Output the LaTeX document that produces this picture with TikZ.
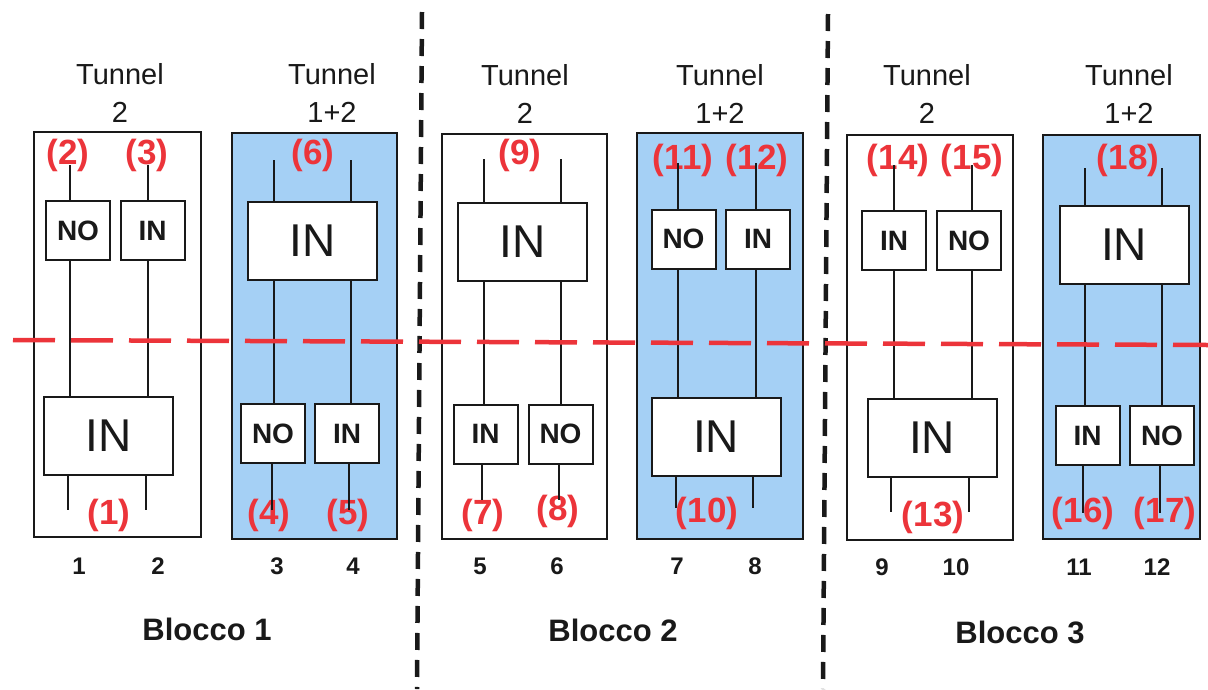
\documentclass[tikz,border=0pt]{standalone}
\usepackage{fontspec}
\setmainfont{Liberation Sans}
\definecolor{panelblue}{RGB}{165,208,245}
\definecolor{labelred}{RGB}{236,52,58}
\definecolor{ink}{RGB}{25,25,25}
\tikzset{
  tbox/.style={draw=ink, line width=2pt, inner sep=0pt},
  whitepanel/.style={tbox, fill=white},
  bluepanel/.style={tbox, fill=panelblue},
  bigsw/.style={draw=ink, line width=2pt, fill=white, inner sep=0pt,
    minimum width=129pt, minimum height=78pt, text=ink,
    font=\fontsize{46}{46}\selectfont},
  smallsw/.style={draw=ink, line width=2pt, fill=white, inner sep=0pt,
    minimum width=64pt, minimum height=59pt, text=ink,
    font=\fontsize{28}{28}\selectfont\bfseries},
  wire/.style={draw=ink, line width=2pt},
  redlbl/.style={text=labelred, inner sep=0pt, font=\fontsize{35}{35}\selectfont\bfseries},
  colnum/.style={text=ink, inner sep=0pt, font=\fontsize{24}{24}\selectfont\bfseries},
  blocklbl/.style={text=ink, inner sep=0pt, font=\fontsize{31}{31}\selectfont\bfseries},
  tunlbl/.style={text=ink, inner sep=0pt, align=center,
    font=\fontsize{29}{38}\selectfont},
  blockdiv/.style={draw=ink, line width=4.5pt, dash pattern=on 17pt off 10pt},
  cutline/.style={draw=labelred, line width=4.5pt, dash pattern=on 42pt off 16pt}
}
\begin{document}
\begin{tikzpicture}[x=1pt, y=-1pt]
\useasboundingbox[fill=white] (0,0) rectangle (1208,689);

% ---------- panels ----------
\node[whitepanel, minimum width=167pt, minimum height=405pt] (p1) at (117.5,334.5) {};
\node[bluepanel,  minimum width=165pt, minimum height=406pt] (p2) at (314.5,336) {};
\node[whitepanel, minimum width=165pt, minimum height=405pt] (p3) at (524.5,336.5) {};
\node[bluepanel,  minimum width=166pt, minimum height=406pt] (p4) at (720,336) {};
\node[whitepanel, minimum width=166pt, minimum height=405pt] (p5) at (930,337.5) {};
\node[bluepanel,  minimum width=157pt, minimum height=404pt] (p6) at (1121.5,337) {};

% ---------- tunnel headings ----------
\node[tunlbl] (t1) at (120,93) {Tunnel\\2};
\node[tunlbl] (t2) at (332,93) {Tunnel\\1+2};
\node[tunlbl] (t3) at (525,94) {Tunnel\\2};
\node[tunlbl] (t4) at (720,94) {Tunnel\\1+2};
\node[tunlbl] (t5) at (927,94) {Tunnel\\2};
\node[tunlbl] (t6) at (1129,94) {Tunnel\\1+2};

% ---------- red terminal labels ----------
\node[redlbl] (r2)  at (68,155)   {(2)};
\node[redlbl] (r3)  at (147,155)  {(3)};
\node[redlbl] (r1)  at (109,515)  {(1)};
\node[redlbl] (r6)  at (313,155)  {(6)};
\node[redlbl] (r4)  at (269,515)  {(4)};
\node[redlbl] (r5)  at (348,515)  {(5)};
\node[redlbl] (r9)  at (520,155)  {(9)};
\node[redlbl] (r7)  at (483,515)  {(7)};
\node[redlbl] (r8)  at (558,511)  {(8)};
\node[redlbl] (r11) at (683,160)  {(11)};
\node[redlbl] (r12) at (757,160)  {(12)};
\node[redlbl] (r10) at (707,513)  {(10)};
\node[redlbl] (r14) at (898,160)  {(14)};
\node[redlbl] (r15) at (972,160)  {(15)};
\node[redlbl] (r13) at (933,517)  {(13)};
\node[redlbl] (r18) at (1128,160) {(18)};
\node[redlbl] (r16) at (1083,513) {(16)};
\node[redlbl] (r17) at (1165,513) {(17)};

% ---------- switch boxes ----------
% block 1
\node[smallsw] (s1a) at (78,230.5)   {NO};
\node[smallsw] (s1b) at (152.5,230.5){IN};
\node[bigsw]   (L1)  at (108.5,436)  {IN};
\node[bigsw]   (L2)  at (312.5,241)  {IN};
\node[smallsw] (s2a) at (273,433.5)  {NO};
\node[smallsw] (s2b) at (347,433.5)  {IN};
% block 2
\node[bigsw]   (L3)  at (522.5,242)  {IN};
\node[smallsw] (s3a) at (485.5,434)  {IN};
\node[smallsw] (s3b) at (560.5,434)  {NO};
\node[smallsw] (s4a) at (683.5,239)  {NO};
\node[smallsw] (s4b) at (758,239)    {IN};
\node[bigsw]   (L4)  at (716,437)    {IN};
% block 3
\node[smallsw] (s5a) at (894,240.5)  {IN};
\node[smallsw] (s5b) at (969,240.5)  {NO};
\node[bigsw]   (L5)  at (932,438)    {IN};
\node[bigsw]   (L6)  at (1124,245)   {IN};
\node[smallsw] (s6a) at (1087.5,435.5){IN};
\node[smallsw] (s6b) at (1162,435.5) {NO};

% ---------- wire ends ----------
\coordinate (w1a) at (70,165);   \coordinate (w1b) at (148,165);
\coordinate (e1a) at (68,510);   \coordinate (e1b) at (146,510);
\coordinate (w2a) at (274,160);  \coordinate (w2b) at (351,160);
\coordinate (e2a) at (272,510);  \coordinate (e2b) at (349,510);
\coordinate (w3a) at (484,159);  \coordinate (w3b) at (561,159);
\coordinate (e3a) at (482,500);  \coordinate (e3b) at (559,500);
\coordinate (w4a) at (678,163);  \coordinate (w4b) at (756,163);
\coordinate (e4a) at (676,508);  \coordinate (e4b) at (753,508);
\coordinate (w5a) at (894,165);  \coordinate (w5b) at (972,165);
\coordinate (e5a) at (891,512);  \coordinate (e5b) at (969,512);
\coordinate (w6a) at (1085,168); \coordinate (w6b) at (1162,168);
\coordinate (e6a) at (1083,513); \coordinate (e6b) at (1160,513);

% ---------- wires: block 1 ----------
\draw[wire] (w1a) -- (w1a |- s1a.north);
\draw[wire] (w1a |- s1a.south) -- (w1a |- L1.north);
\draw[wire] (e1a |- L1.south) -- (e1a);
\draw[wire] (w1b) -- (w1b |- s1b.north);
\draw[wire] (w1b |- s1b.south) -- (w1b |- L1.north);
\draw[wire] (e1b |- L1.south) -- (e1b);
\draw[wire] (w2a) -- (w2a |- L2.north);
\draw[wire] (w2a |- L2.south) -- (w2a |- s2a.north);
\draw[wire] (e2a |- s2a.south) -- (e2a);
\draw[wire] (w2b) -- (w2b |- L2.north);
\draw[wire] (w2b |- L2.south) -- (w2b |- s2b.north);
\draw[wire] (e2b |- s2b.south) -- (e2b);

% ---------- wires: block 2 ----------
\draw[wire] (w3a) -- (w3a |- L3.north);
\draw[wire] (w3a |- L3.south) -- (w3a |- s3a.north);
\draw[wire] (e3a |- s3a.south) -- (e3a);
\draw[wire] (w3b) -- (w3b |- L3.north);
\draw[wire] (w3b |- L3.south) -- (w3b |- s3b.north);
\draw[wire] (e3b |- s3b.south) -- (e3b);
\draw[wire] (w4a) -- (w4a |- s4a.north);
\draw[wire] (w4a |- s4a.south) -- (w4a |- L4.north);
\draw[wire] (e4a |- L4.south) -- (e4a);
\draw[wire] (w4b) -- (w4b |- s4b.north);
\draw[wire] (w4b |- s4b.south) -- (w4b |- L4.north);
\draw[wire] (e4b |- L4.south) -- (e4b);

% ---------- wires: block 3 ----------
\draw[wire] (w5a) -- (w5a |- s5a.north);
\draw[wire] (w5a |- s5a.south) -- (w5a |- L5.north);
\draw[wire] (e5a |- L5.south) -- (e5a);
\draw[wire] (w5b) -- (w5b |- s5b.north);
\draw[wire] (w5b |- s5b.south) -- (w5b |- L5.north);
\draw[wire] (e5b |- L5.south) -- (e5b);
\draw[wire] (w6a) -- (w6a |- L6.north);
\draw[wire] (w6a |- L6.south) -- (w6a |- s6a.north);
\draw[wire] (e6a |- s6a.south) -- (e6a);
\draw[wire] (w6b) -- (w6b |- L6.north);
\draw[wire] (w6b |- L6.south) -- (w6b |- s6b.north);
\draw[wire] (e6b |- s6b.south) -- (e6b);

% ---------- column numbers ----------
\node[colnum] (c1)  at (79,566)   {1};
\node[colnum] (c2)  at (158,566)  {2};
\node[colnum] (c3)  at (277,566)  {3};
\node[colnum] (c4)  at (353,566)  {4};
\node[colnum] (c5)  at (480,566)  {5};
\node[colnum] (c6)  at (557,566)  {6};
\node[colnum] (c7)  at (677,566)  {7};
\node[colnum] (c8)  at (755,566)  {8};
\node[colnum] (c9)  at (882,567)  {9};
\node[colnum] (c10) at (956,567)  {10};
\node[colnum] (c11) at (1079,567) {11};
\node[colnum] (c12) at (1157,567) {12};

% ---------- block names ----------
\node[blocklbl] (bl1) at (207,629)  {Blocco 1};
\node[blocklbl] (bl2) at (613,630)  {Blocco 2};
\node[blocklbl] (bl3) at (1020,632) {Blocco 3};

% ---------- block dividers ----------
\coordinate (d1t) at (422,12);  \coordinate (d1b) at (417,689);
\coordinate (d2t) at (828,14);  \coordinate (d2b) at (823,689);
\draw[blockdiv] (d1t) -- (d1b);
\draw[blockdiv] (d2t) -- (d2b);

% ---------- red section line ----------
\coordinate (cutl) at (13,340);
\coordinate (cutr) at (1208,345);
\draw[cutline] (cutl) -- (cutr);
\end{tikzpicture}
\end{document}
